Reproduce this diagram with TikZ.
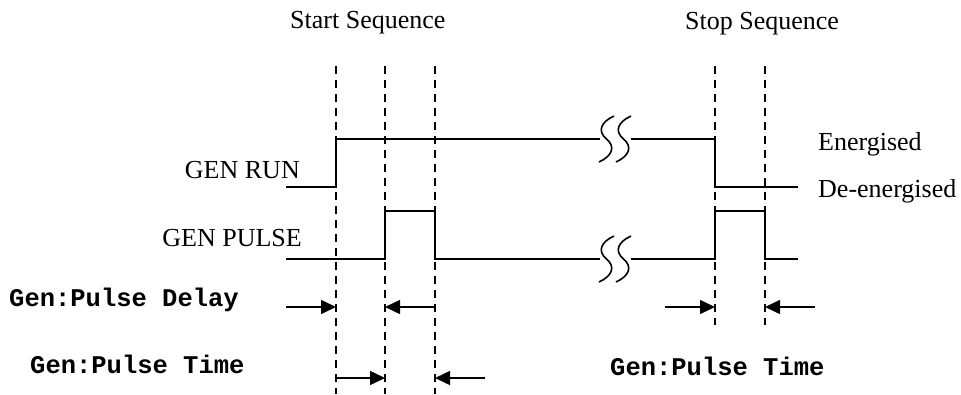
\documentclass[tikz,border=0pt]{standalone}
\usepackage{fontspec}
\setmainfont{Liberation Serif}
\setmonofont{Liberation Mono}
\usetikzlibrary{arrows.meta}
\begin{document}
\begin{tikzpicture}[x=1pt,y=-1pt,
  lbl/.style={inner sep=0pt,font=\fontsize{26}{30}\selectfont},
  mlbl/.style={inner sep=0pt,font=\fontsize{25.5}{30}\selectfont\ttfamily\bfseries},
  wave/.style={line width=1.9pt,line join=miter},
  guide/.style={line width=1.6pt,dash pattern=on 8pt off 6pt},
  dim/.style={line width=1.5pt,-{Triangle[length=15pt,width=14pt]}},
  brk/.style={line width=1.6pt}]
\useasboundingbox (0,0) rectangle (961,394);
% guides
\coordinate (g1t) at (336,66); \coordinate (g1b) at (336,394);
\coordinate (g2t) at (385,66); \coordinate (g2b) at (385,394);
\coordinate (g3t) at (435,66); \coordinate (g3b) at (435,394);
\coordinate (g4t) at (715,66); \coordinate (g4b) at (715,325);
\coordinate (g5t) at (765,66); \coordinate (g5b) at (765,325);
\foreach \i in {1,...,5} \draw[guide] (g\i t) -- (g\i b);
% labels
\node[lbl,anchor=base west] (start) at (290,28) {Start Sequence};
\node[lbl,anchor=base west] (stop) at (685,29) {Stop Sequence};
\node[lbl,anchor=base east] (run) at (300,178) {GEN RUN};
\node[lbl,anchor=base east] (pulse) at (302,246) {GEN PULSE};
\node[lbl,anchor=base west] (en) at (818,150) {Energised};
\node[lbl,anchor=base west] (de) at (818,197) {De-energised};
\node[mlbl,anchor=base west] (delay) at (9,306) {Gen:Pulse Delay};
\node[mlbl,anchor=base west] (time1) at (30,373) {Gen:Pulse Time};
\node[mlbl,anchor=base west] (time2) at (610,375) {Gen:Pulse Time};
% GEN RUN waveform
\draw[wave] (286,187) -- (336,187) -- (336,139) -- (600,139);
\draw[wave] (631,139) -- (715,139) -- (715,187) -- (798,187);
% GEN PULSE waveform
\draw[wave] (286,259) -- (385,259) -- (385,211) -- (435,211) -- (435,259) -- (600,259);
\draw[wave] (631,259) -- (715,259) -- (715,211) -- (765,211) -- (765,259) -- (798,259);
% break marks
\foreach \dy in {0,120}{
  \foreach \xa in {599,616}{
    \draw[brk] (\xa+15,116+\dy) .. controls (\xa+2,122+\dy) and (\xa-2,131+\dy) .. (\xa+7.5,139+\dy)
       .. controls (\xa+17,147+\dy) and (\xa+13,156+\dy) .. (\xa,162+\dy);
  }
}
% dimension arrows
\coordinate (a1) at (286,307); \coordinate (a1e) at (336,307);
\coordinate (a2) at (435,307); \coordinate (a2e) at (385,307);
\coordinate (a3) at (336,378); \coordinate (a3e) at (385,378);
\coordinate (a4) at (485,378); \coordinate (a4e) at (435,378);
\coordinate (a5) at (665,307); \coordinate (a5e) at (715,307);
\coordinate (a6) at (815,307); \coordinate (a6e) at (765,307);
\foreach \i in {1,...,6} \draw[dim] (a\i) -- (a\i e);
\end{tikzpicture}
\end{document}
